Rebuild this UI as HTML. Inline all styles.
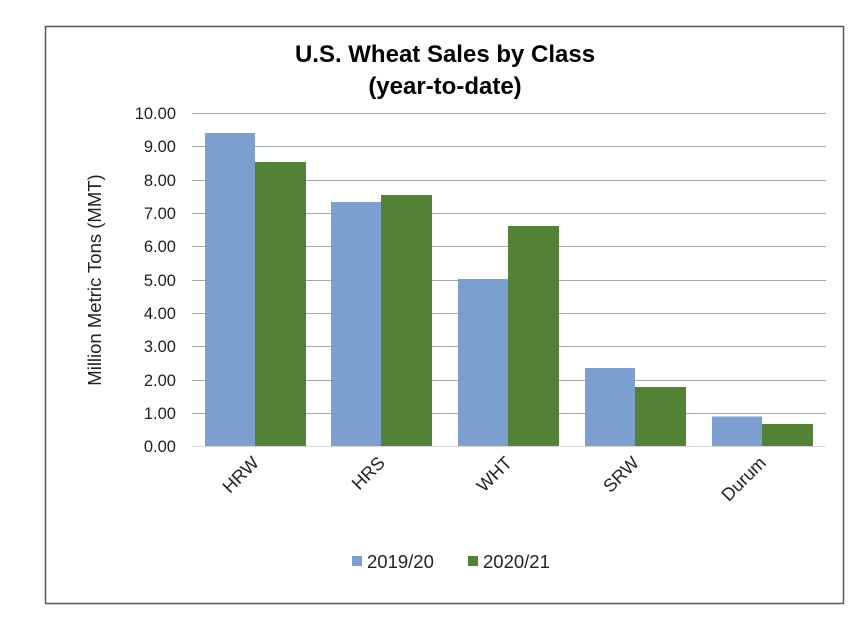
<!DOCTYPE html>
<html><head><style>body{margin:0;background:#fff}svg{display:block}text{font-family:"Liberation Sans",Arial,sans-serif}</style></head><body>
<svg width="856" height="626" xmlns="http://www.w3.org/2000/svg">
<rect x="45.5" y="26.5" width="798" height="577" fill="#fff" stroke="#595959" stroke-width="1.5"/>
<text x="445" y="62" font-size="24" font-weight="bold" text-anchor="middle" fill="#000">U.S. Wheat Sales by Class</text>
<text x="445" y="94" font-size="24" font-weight="bold" text-anchor="middle" fill="#000">(year-to-date)</text>
<g stroke="#a6a6a6" stroke-width="1">
<line x1="192" x2="826" y1="113.5" y2="113.5"/><line x1="192" x2="826" y1="146.5" y2="146.5"/>
<line x1="192" x2="826" y1="180.5" y2="180.5"/><line x1="192" x2="826" y1="213.5" y2="213.5"/>
<line x1="192" x2="826" y1="246.5" y2="246.5"/><line x1="192" x2="826" y1="280.5" y2="280.5"/>
<line x1="192" x2="826" y1="313.5" y2="313.5"/><line x1="192" x2="826" y1="346.5" y2="346.5"/>
<line x1="192" x2="826" y1="380.5" y2="380.5"/><line x1="192" x2="826" y1="413.5" y2="413.5"/>
<line x1="192" x2="826" y1="446.5" y2="446.5" stroke="#d9d9d9"/>
</g>
<g font-size="16.5" fill="#222" text-anchor="end">
<text x="176" y="119">10.00</text><text x="176" y="152">9.00</text><text x="176" y="186">8.00</text>
<text x="176" y="219">7.00</text><text x="176" y="252">6.00</text><text x="176" y="286">5.00</text>
<text x="176" y="319">4.00</text><text x="176" y="352">3.00</text><text x="176" y="386">2.00</text>
<text x="176" y="419">1.00</text><text x="176" y="452">0.00</text>
</g>
<text transform="translate(101,280) rotate(-90)" font-size="18.5" text-anchor="middle" fill="#222">Million Metric Tons (MMT)</text>
<g fill="#7ba0cf">
<rect x="205" y="133" width="50" height="313"/><rect x="331" y="202" width="50" height="244"/>
<rect x="458" y="279" width="50" height="167"/><rect x="585" y="368" width="50" height="78"/>
<rect x="712" y="416.5" width="50" height="29.5"/>
</g>
<g fill="#538135">
<rect x="255" y="162" width="51" height="284"/><rect x="381" y="195" width="51" height="251"/>
<rect x="508" y="226" width="51" height="220"/><rect x="635" y="387" width="51" height="59"/>
<rect x="762" y="424" width="51" height="22"/>
</g>
<g font-size="18" fill="#222" text-anchor="end">
<text transform="translate(260,464) rotate(-45)">HRW</text>
<text transform="translate(386,464) rotate(-45)">HRS</text>
<text transform="translate(513,464) rotate(-45)">WHT</text>
<text transform="translate(640,464) rotate(-45)">SRW</text>
<text transform="translate(767,464) rotate(-45)">Durum</text>
</g>
<rect x="352" y="556" width="10" height="10" fill="#7ba0cf"/>
<text x="367" y="568" font-size="18.5" fill="#222">2019/20</text>
<rect x="468" y="556" width="10" height="10" fill="#538135"/>
<text x="483" y="568" font-size="18.5" fill="#222">2020/21</text>
</svg>
</body></html>
